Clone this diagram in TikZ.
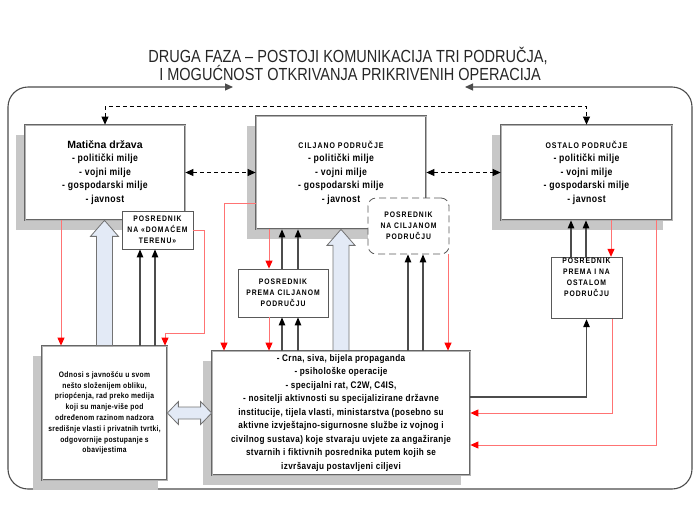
\documentclass[tikz,border=0pt]{standalone}
\usepackage{fontspec}
\setmainfont{Liberation Sans}
\newfontfamily\titlefont{Liberation Sans}[FakeStretch=0.83]
\newfontfamily\boxfont{Liberation Sans}[FakeStretch=0.85, LetterSpace=4]
\newfontfamily\capfont{Liberation Sans}[FakeStretch=0.85, LetterSpace=12]
\usetikzlibrary{arrows.meta, shadows, calc}
\definecolor{arrowfill}{RGB}{227,234,246}

% hollow arrow pointing up, from #1 to #2
\newcommand{\hollowup}[2]{%
  \filldraw[hollow] let \p1=(#1), \p2=(#2) in
    (\x1-8pt,\y1) -- (\x1-8pt,\y2-16pt) -- (\x1-14pt,\y2-16pt) -- (\x1,\y2)
    -- (\x1+14pt,\y2-16pt) -- (\x1+8pt,\y2-16pt) -- (\x1+8pt,\y1) -- cycle;}
% hollow arrow with two heads, from #1 to #2
\newcommand{\hollowlr}[2]{%
  \filldraw[hollow] let \p1=(#1), \p2=(#2) in
    (\x1,\y1) -- (\x1+11pt,\y1+11.5pt) -- (\x1+11pt,\y1+6pt) -- (\x2-11pt,\y1+6pt)
    -- (\x2-11pt,\y1+11.5pt) -- (\x2,\y1) -- (\x2-11pt,\y1-11.5pt) -- (\x2-11pt,\y1-6pt)
    -- (\x1+11pt,\y1-6pt) -- (\x1+11pt,\y1-11.5pt) -- cycle;}

\begin{document}
\begin{tikzpicture}[x=1pt, y=-1pt, >={Triangle[length=8pt,width=7pt]}]
    \tikzstyle{mainbox}=[rectangle, draw=black!60, double=black!30, double distance=1pt,
        line width=0.75pt, fill=white, inner sep=1pt, align=center,
        drop shadow={fill=black!22, opacity=1, shadow xshift=-9.5pt, shadow yshift=-9.5pt}]
    \tikzstyle{smallbox}=[rectangle, draw=black!65, line width=0.8pt, fill=white,
        inner sep=1pt, align=center, font=\capfont\bfseries\fontsize{8}{11}\selectfont]
    \tikzstyle{dashbox}=[smallbox, rounded corners=8pt, dash pattern=on 7pt off 4pt]
    \tikzstyle{titletext}=[font=\titlefont\fontsize{17.5}{18}\selectfont, text=black!85, inner sep=0pt]
    \tikzstyle{dasharr}=[<->, dashed, dash pattern=on 4pt off 3pt, line width=0.8pt]
    \tikzstyle{blk}=[draw=black!70, line width=1.1pt, -{Triangle[length=8pt,width=6.5pt,color=black]}]
    \tikzstyle{redarr}=[draw=red!55, line width=1pt, -{Triangle[length=8pt,width=7pt,color=red]}]
    \tikzstyle{hollow}=[fill=arrowfill, draw=black!55, line width=0.8pt]
    \tikzstyle{frame}=[<->, draw=black!70, line width=1.1pt, rounded corners=20pt]

    \useasboundingbox (0,0) rectangle (700,525);

    % title
    \node[titletext, anchor=base] (title1) at (348,62) {DRUGA FAZA – POSTOJI KOMUNIKACIJA TRI PODRUČJA,};
    \node[titletext, anchor=base] (title2) at (350,80) {I MOGUĆNOST OTKRIVANJA PRIKRIVENIH OPERACIJA};

    % outer frame
    \coordinate (ltip) at (233,87);
    \coordinate (rtip) at (465,87);
    \draw[frame] (ltip) -- (8,87) -- (8,489) -- (692,489) -- (692,87) -- (rtip);

    % three areas
    \node[mainbox, minimum width=160pt, minimum height=95pt,
        font=\boxfont\bfseries\fontsize{10.2}{13.5}\selectfont] (mat) at (105,172.5)
        {{\normalfont\bfseries\fontsize{10.5}{13.5}\selectfont Matična država}\\- politički milje\\- vojni milje\\- gospodarski milje\\- javnost};
    \node[mainbox, minimum width=170pt, minimum height=113pt,
        font=\boxfont\bfseries\fontsize{10.2}{13.5}\selectfont] (cilj) at (341,172.5)
        {{\capfont\fontsize{8.2}{13.5}\selectfont CILJANO PODRUČJE}\\- politički milje\\- vojni milje\\- gospodarski milje\\- javnost};
    \node[mainbox, minimum width=171pt, minimum height=95pt,
        font=\boxfont\bfseries\fontsize{10.2}{13.5}\selectfont] (ost) at (586.5,172.5)
        {{\capfont\fontsize{8.2}{13.5}\selectfont OSTALO PODRUČJE}\\- politički milje\\- vojni milje\\- gospodarski milje\\- javnost};

    % lower boxes
    \node[mainbox, minimum width=125pt, minimum height=134pt,
        font=\boxfont\bfseries\fontsize{7.9}{10.8}\selectfont] (odn) at (104.5,413)
        {Odnosi s javnošću u svom\\nešto složenijem obliku,\\priopćenja, rad preko medija\\koji su manje-više pod\\određenom razinom nadzora\\središnje vlasti i privatnih tvrtki,\\odgovornije postupanje s\\obavijestima};
    \node[mainbox, minimum width=258pt, minimum height=124pt,
        font=\boxfont\bfseries\fontsize{9.6}{13.5}\selectfont] (prop) at (341,413)
        {- Crna, siva, bijela propaganda\\- psihološke operacije\\- specijalni rat, C2W, C4IS,\\- nositelji aktivnosti su specijalizirane državne\\institucije, tijela vlasti, ministarstva (posebno su\\aktivne izvještajno-sigurnosne službe iz vojnog i\\civilnog sustava) koje stvaraju uvjete za angažiranje\\stvarnih i fiktivnih posrednika putem kojih se\\izvršavaju postavljeni ciljevi};

    % intermediaries
    \node[smallbox, minimum width=71pt, minimum height=38pt] (pdom) at (157.5,230) {POSREDNIK\\NA «DOMAĆEM\\TERENU»};
    \node[dashbox, minimum width=81pt, minimum height=56pt] (pnacil) at (408.5,226) {POSREDNIK\\NA CILJANOM\\PODRUČJU};
    \node[smallbox, minimum width=90pt, minimum height=48pt] (pprema) at (283,293) {POSREDNIK\\PREMA CILJANOM\\PODRUČJU};
    \node[smallbox, minimum width=71pt, minimum height=58pt] (post) at (586.5,288) {POSREDNIK\\PREMA I NA\\OSTALOM\\PODRUČJU\\[10pt]};

    % communication between areas
    \draw[dasharr] (mat.north) -- ++(0,-18) -| (ost.north);
    \draw[dasharr] (mat.east) -- (cilj.west);
    \draw[dasharr] (cilj.east) -- (ost.west);

    % hollow arrows
    \hollowup{odn.north}{mat.south}
    \hollowup{prop.north}{cilj.south}
    \hollowlr{odn.east}{prop.west}

    % black arrows
    \foreach \x in {140,155} \draw[blk] (\x,0 |- odn.north) -- (\x,0 |- pdom.south);
    \foreach \x in {282,298} \draw[blk] (\x,0 |- pprema.north) -- (\x,0 |- cilj.south);
    \foreach \x in {282,298} \draw[blk] (\x,0 |- prop.north) -- (\x,0 |- pprema.south);
    \foreach \x in {408,423} \draw[blk] (\x,0 |- prop.north) -- (\x,0 |- pnacil.south);
    \foreach \x in {571,586} \draw[blk] (\x,0 |- post.north) -- (\x,0 |- ost.south);
    \draw[blk] (prop.east |- 0,397) -| (post.south);

    % red arrows
    \draw[redarr] (61,0 |- mat.south) -- (61,0 |- odn.north);
    \draw[redarr] (pdom.east) -| (204,333) -| (165,0 |- odn.north);
    \draw[redarr] (cilj.west |- 0,203) -| (224,0 |- prop.north);
    \draw[redarr] (269,0 |- cilj.south) -- (269,0 |- pprema.north);
    \draw[redarr] (269,0 |- pprema.south) -- (269,0 |- prop.north);
    \draw[redarr] (448,0 |- pnacil.south) -- (448,0 |- prop.north);
    \draw[redarr] (611,0 |- ost.south) -- (611,0 |- post.north);
    \draw[redarr] (612,0 |- post.south) |- (prop.east |- 0,413);
    \draw[redarr] (656,0 |- ost.south) |- (prop.east |- 0,445);
\end{tikzpicture}
\end{document}
